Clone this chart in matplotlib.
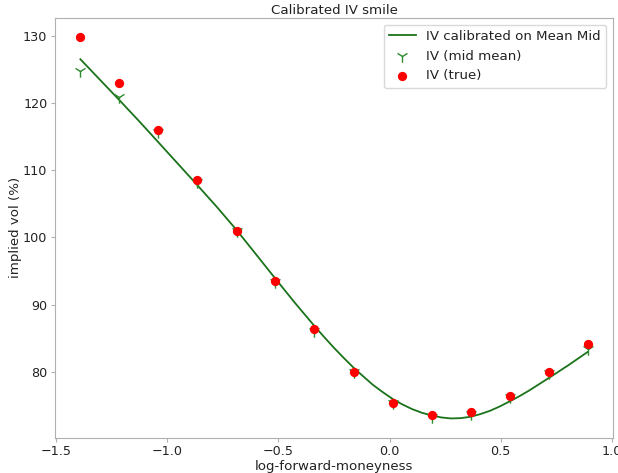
import matplotlib
matplotlib.use('Agg')
import matplotlib.pyplot as plt

# log-forward-moneyness of the quoted strikes
k = [-1.392, -1.216, -1.041, -0.865, -0.689, -0.514, -0.338,
     -0.162, 0.014, 0.189, 0.365, 0.541, 0.716, 0.892]
iv_true = [129.8, 122.9, 115.9, 108.6, 101.0, 93.5, 86.4,
           80.0, 75.4, 73.5, 74.0, 76.4, 80.0, 84.2]
iv_mid_mean = [124.8, 120.9, 115.6, 108.3, 100.9, 93.3, 86.1,
               79.9, 75.4, 73.2, 73.7, 76.2, 79.8, 83.4]

# calibrated smile
curve_k = [-1.392, -1.304, -1.216, -1.128, -1.041, -0.953, -0.865, -0.777,
           -0.689, -0.602, -0.514, -0.426, -0.338, -0.294, -0.250, -0.206,
           -0.162, -0.118, -0.075, -0.030, 0.014, 0.057, 0.101, 0.145, 0.189,
           0.233, 0.277, 0.321, 0.365, 0.409, 0.453, 0.497, 0.541, 0.584,
           0.628, 0.716, 0.804, 0.892]
curve_iv = [126.5, 123.45, 120.4, 117.3, 114.15, 110.95, 107.75, 104.5,
            101.1, 97.5, 93.85, 90.25, 86.8, 85.15, 83.55, 82.05,
            80.6, 79.3, 78.05, 76.95, 75.95, 75.15, 74.45, 73.9, 73.5,
            73.2, 73.05, 73.1, 73.3, 73.7, 74.2, 74.85, 75.6, 76.35,
            77.2, 79.05, 80.95, 82.95]

fs = 9.6
txt = '#222222'
edge = '#b0b0b0'

fig = plt.figure(figsize=(6.18, 4.73), dpi=100)
ax = fig.add_axes([0.089, 0.075, 0.903, 0.887])

ax.plot(curve_k, curve_iv, color='#1a731a', lw=1.3, label='IV calibrated on Mean Mid')
ax.scatter(k, iv_mid_mean, marker='1', s=80, color='#2e8b2e', linewidths=1.0,
           label='IV (mid mean)', zorder=3)
ax.scatter(k, iv_true, marker='o', s=32, color='red', label='IV (true)', zorder=4)

ax.set_title('Calibrated IV smile', fontsize=fs, color=txt, pad=3)
ax.set_xlabel('log-forward-moneyness', fontsize=fs, color=txt, labelpad=1.5)
ax.set_ylabel('implied vol (%)', fontsize=fs, color=txt, labelpad=1)

ax.set_yticks([80, 90, 100, 110, 120, 130])
ax.tick_params(labelsize=9.2, labelcolor=txt, color=edge, length=3, pad=2.5)
for s in ax.spines.values():
    s.set_color(edge)

leg = ax.legend(loc='upper right', fontsize=fs, scatterpoints=1, frameon=True)
leg.get_frame().set_edgecolor('#d0d0d0')
for t in leg.get_texts():
    t.set_color(txt)

plt.savefig('out.png', dpi=100)
